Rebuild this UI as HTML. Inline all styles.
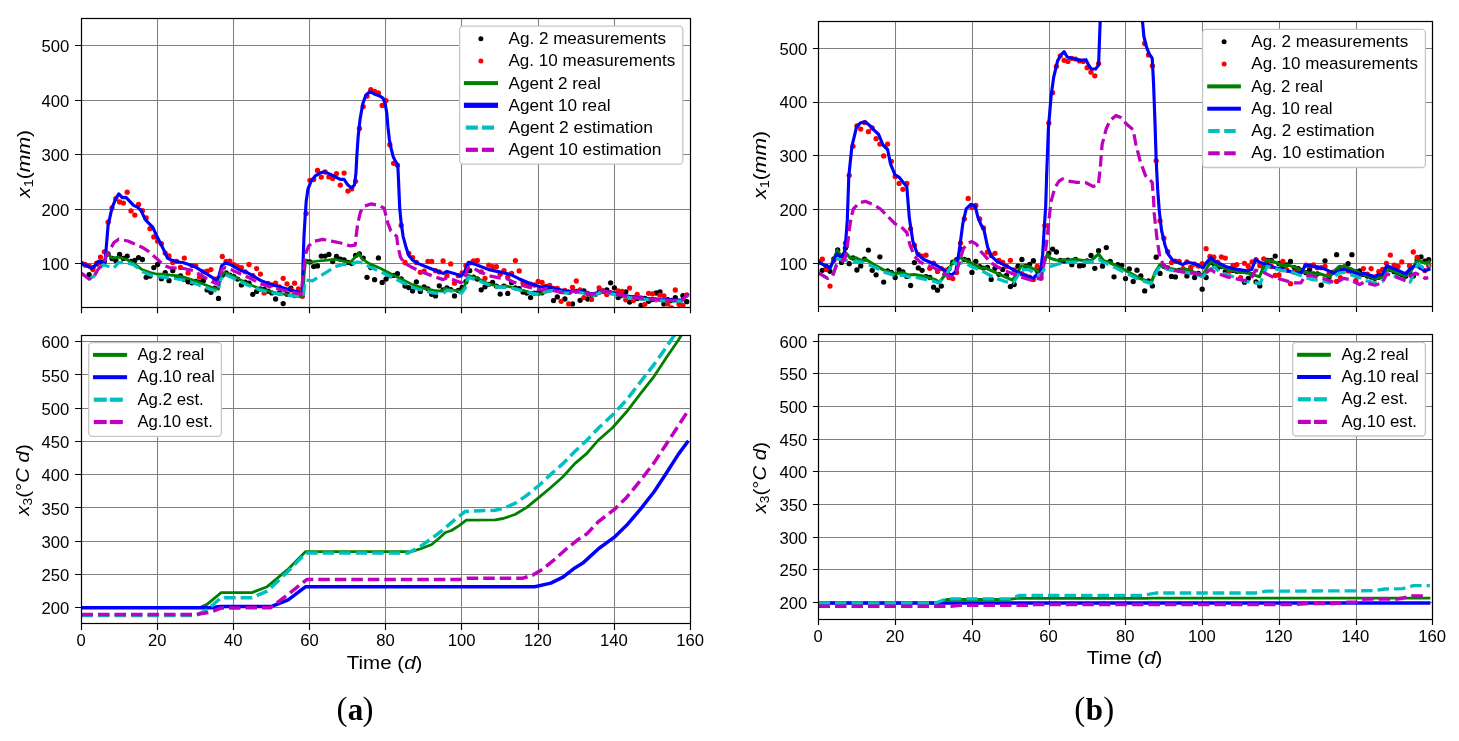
<!DOCTYPE html>
<html><head><meta charset="utf-8"><title>Figure</title>
<style>html,body{margin:0;padding:0;background:#fff;}svg{display:block;}text{font-family:"Liberation Sans", sans-serif;fill:#000;filter:grayscale(1);}text.sf{font-family:"Liberation Serif",serif;}</style>
</head><body>
<svg width="1459" height="741" viewBox="0 0 1459 741">
<rect width="1459" height="741" fill="#fff"/>
<defs>
<clipPath id="ctl"><rect x="81.5" y="18.5" width="609" height="289"/></clipPath>
<clipPath id="ctr"><rect x="818.5" y="21.5" width="614" height="285"/></clipPath>
<clipPath id="cbl"><rect x="81.5" y="335.5" width="609" height="288"/></clipPath>
<clipPath id="cbr"><rect x="818.5" y="334.5" width="614" height="285"/></clipPath>
</defs>
<path d="M81.5 18.5V307.5M157.5 18.5V307.5M233.5 18.5V307.5M309.5 18.5V307.5M385.5 18.5V307.5M461.5 18.5V307.5M538.5 18.5V307.5M614.5 18.5V307.5M690.5 18.5V307.5M81.5 263.5H690.5M81.5 209.5H690.5M81.5 154.5H690.5M81.5 100.5H690.5M81.5 45.5H690.5" stroke="#808080" stroke-width="1.05" fill="none"/>
<g clip-path="url(#ctl)">
<g fill="#000000"><circle cx="81.5" cy="263.6" r="2.65"/><circle cx="85.3" cy="264.9" r="2.65"/><circle cx="89.1" cy="274.7" r="2.65"/><circle cx="92.9" cy="267.8" r="2.65"/><circle cx="96.7" cy="263.9" r="2.65"/><circle cx="100.5" cy="262" r="2.65"/><circle cx="104.3" cy="261.6" r="2.65"/><circle cx="108.1" cy="253.9" r="2.65"/><circle cx="112" cy="258.5" r="2.65"/><circle cx="115.8" cy="260.5" r="2.65"/><circle cx="119.6" cy="254.4" r="2.65"/><circle cx="123.4" cy="258.4" r="2.65"/><circle cx="127.2" cy="256.1" r="2.65"/><circle cx="131" cy="261.4" r="2.65"/><circle cx="134.8" cy="260.5" r="2.65"/><circle cx="138.6" cy="257.6" r="2.65"/><circle cx="142.4" cy="259.5" r="2.65"/><circle cx="146.2" cy="277.3" r="2.65"/><circle cx="150" cy="276.1" r="2.65"/><circle cx="153.8" cy="267.6" r="2.65"/><circle cx="157.6" cy="264.5" r="2.65"/><circle cx="161.4" cy="278.7" r="2.65"/><circle cx="165.2" cy="272.7" r="2.65"/><circle cx="169" cy="280.7" r="2.65"/><circle cx="172.8" cy="270.7" r="2.65"/><circle cx="176.7" cy="277.3" r="2.65"/><circle cx="180.5" cy="276" r="2.65"/><circle cx="184.3" cy="279.4" r="2.65"/><circle cx="188.1" cy="281.8" r="2.65"/><circle cx="191.9" cy="282.8" r="2.65"/><circle cx="195.7" cy="281.5" r="2.65"/><circle cx="199.5" cy="282.6" r="2.65"/><circle cx="203.3" cy="280.7" r="2.65"/><circle cx="207.1" cy="289.9" r="2.65"/><circle cx="210.9" cy="292.3" r="2.65"/><circle cx="214.7" cy="288.2" r="2.65"/><circle cx="218.5" cy="298.4" r="2.65"/><circle cx="222.3" cy="275.2" r="2.65"/><circle cx="226.1" cy="272.8" r="2.65"/><circle cx="229.9" cy="275.1" r="2.65"/><circle cx="233.8" cy="276.6" r="2.65"/><circle cx="237.6" cy="279.1" r="2.65"/><circle cx="241.4" cy="284.9" r="2.65"/><circle cx="245.2" cy="282.2" r="2.65"/><circle cx="249" cy="283.2" r="2.65"/><circle cx="252.8" cy="294.3" r="2.65"/><circle cx="256.6" cy="291.4" r="2.65"/><circle cx="260.4" cy="289" r="2.65"/><circle cx="264.2" cy="289.3" r="2.65"/><circle cx="268" cy="291.2" r="2.65"/><circle cx="271.8" cy="292.9" r="2.65"/><circle cx="275.6" cy="299" r="2.65"/><circle cx="279.4" cy="293" r="2.65"/><circle cx="283.2" cy="303.6" r="2.65"/><circle cx="287" cy="294.2" r="2.65"/><circle cx="290.8" cy="288.1" r="2.65"/><circle cx="294.6" cy="295.5" r="2.65"/><circle cx="298.5" cy="295.3" r="2.65"/><circle cx="302.3" cy="295.4" r="2.65"/><circle cx="306.1" cy="261.3" r="2.65"/><circle cx="309.9" cy="261.9" r="2.65"/><circle cx="313.7" cy="266.6" r="2.65"/><circle cx="317.5" cy="265.9" r="2.65"/><circle cx="321.3" cy="256.1" r="2.65"/><circle cx="325.1" cy="256.1" r="2.65"/><circle cx="328.9" cy="254.4" r="2.65"/><circle cx="332.7" cy="261.5" r="2.65"/><circle cx="336.5" cy="256.5" r="2.65"/><circle cx="340.3" cy="259.2" r="2.65"/><circle cx="344.1" cy="259.9" r="2.65"/><circle cx="347.9" cy="262.4" r="2.65"/><circle cx="351.7" cy="263.6" r="2.65"/><circle cx="355.6" cy="255.4" r="2.65"/><circle cx="359.4" cy="253.9" r="2.65"/><circle cx="363.2" cy="258.1" r="2.65"/><circle cx="367" cy="277.3" r="2.65"/><circle cx="370.8" cy="267.6" r="2.65"/><circle cx="374.6" cy="279.7" r="2.65"/><circle cx="378.4" cy="257.9" r="2.65"/><circle cx="382.2" cy="282.4" r="2.65"/><circle cx="386" cy="279.1" r="2.65"/><circle cx="389.8" cy="275.7" r="2.65"/><circle cx="393.6" cy="275.4" r="2.65"/><circle cx="397.4" cy="273.7" r="2.65"/><circle cx="401.2" cy="278.9" r="2.65"/><circle cx="405" cy="286" r="2.65"/><circle cx="408.8" cy="287.6" r="2.65"/><circle cx="412.6" cy="290.9" r="2.65"/><circle cx="416.4" cy="281.8" r="2.65"/><circle cx="420.3" cy="291.4" r="2.65"/><circle cx="424.1" cy="286.8" r="2.65"/><circle cx="427.9" cy="288.8" r="2.65"/><circle cx="431.7" cy="294.3" r="2.65"/><circle cx="435.5" cy="295.9" r="2.65"/><circle cx="439.3" cy="285.8" r="2.65"/><circle cx="443.1" cy="289.8" r="2.65"/><circle cx="446.9" cy="287.8" r="2.65"/><circle cx="450.7" cy="289.6" r="2.65"/><circle cx="454.5" cy="295.9" r="2.65"/><circle cx="458.3" cy="290.4" r="2.65"/><circle cx="462.1" cy="287.4" r="2.65"/><circle cx="465.9" cy="281.7" r="2.65"/><circle cx="469.7" cy="270.7" r="2.65"/><circle cx="473.5" cy="277.2" r="2.65"/><circle cx="477.3" cy="279" r="2.65"/><circle cx="481.2" cy="289.8" r="2.65"/><circle cx="485" cy="286.8" r="2.65"/><circle cx="488.8" cy="284.3" r="2.65"/><circle cx="492.6" cy="282.4" r="2.65"/><circle cx="496.4" cy="286.1" r="2.65"/><circle cx="500.2" cy="294.1" r="2.65"/><circle cx="504" cy="286.1" r="2.65"/><circle cx="507.8" cy="293.4" r="2.65"/><circle cx="511.6" cy="282.7" r="2.65"/><circle cx="515.4" cy="287.8" r="2.65"/><circle cx="519.2" cy="288.6" r="2.65"/><circle cx="523" cy="292" r="2.65"/><circle cx="526.8" cy="293" r="2.65"/><circle cx="530.6" cy="297.6" r="2.65"/><circle cx="534.4" cy="293.1" r="2.65"/><circle cx="538.2" cy="293" r="2.65"/><circle cx="542.1" cy="292.8" r="2.65"/><circle cx="545.9" cy="290.8" r="2.65"/><circle cx="549.7" cy="289.9" r="2.65"/><circle cx="553.5" cy="300.6" r="2.65"/><circle cx="557.3" cy="296.9" r="2.65"/><circle cx="561.1" cy="291.6" r="2.65"/><circle cx="564.9" cy="299" r="2.65"/><circle cx="568.7" cy="292.2" r="2.65"/><circle cx="572.5" cy="303.9" r="2.65"/><circle cx="576.3" cy="291.3" r="2.65"/><circle cx="580.1" cy="300.3" r="2.65"/><circle cx="583.9" cy="290.8" r="2.65"/><circle cx="587.7" cy="299" r="2.65"/><circle cx="591.5" cy="294.6" r="2.65"/><circle cx="595.3" cy="294.6" r="2.65"/><circle cx="599.1" cy="292.2" r="2.65"/><circle cx="603" cy="291.2" r="2.65"/><circle cx="606.8" cy="290" r="2.65"/><circle cx="610.6" cy="282.8" r="2.65"/><circle cx="614.4" cy="287.8" r="2.65"/><circle cx="618.2" cy="297.6" r="2.65"/><circle cx="622" cy="295.5" r="2.65"/><circle cx="625.8" cy="291.8" r="2.65"/><circle cx="629.6" cy="302.1" r="2.65"/><circle cx="633.4" cy="297.7" r="2.65"/><circle cx="637.2" cy="298.6" r="2.65"/><circle cx="641" cy="305.4" r="2.65"/><circle cx="644.8" cy="298.4" r="2.65"/><circle cx="648.6" cy="301.3" r="2.65"/><circle cx="652.4" cy="299.6" r="2.65"/><circle cx="656.2" cy="293" r="2.65"/><circle cx="660" cy="291.8" r="2.65"/><circle cx="663.9" cy="303.9" r="2.65"/><circle cx="667.7" cy="299.7" r="2.65"/><circle cx="671.5" cy="300.5" r="2.65"/><circle cx="675.3" cy="297.6" r="2.65"/><circle cx="679.1" cy="301.5" r="2.65"/><circle cx="682.9" cy="295.6" r="2.65"/><circle cx="686.7" cy="301.7" r="2.65"/></g>
<g fill="#ff0000"><circle cx="81.5" cy="263.5" r="2.65"/><circle cx="85.3" cy="264.7" r="2.65"/><circle cx="89.1" cy="265.8" r="2.65"/><circle cx="92.9" cy="269.6" r="2.65"/><circle cx="96.7" cy="263.2" r="2.65"/><circle cx="100.5" cy="257.1" r="2.65"/><circle cx="104.3" cy="251.8" r="2.65"/><circle cx="108.1" cy="222.2" r="2.65"/><circle cx="112" cy="208" r="2.65"/><circle cx="115.8" cy="198.7" r="2.65"/><circle cx="119.6" cy="202" r="2.65"/><circle cx="123.4" cy="203.1" r="2.65"/><circle cx="127.2" cy="192.2" r="2.65"/><circle cx="131" cy="210.9" r="2.65"/><circle cx="134.8" cy="215.1" r="2.65"/><circle cx="138.6" cy="204.4" r="2.65"/><circle cx="142.4" cy="210.7" r="2.65"/><circle cx="146.2" cy="218" r="2.65"/><circle cx="150" cy="228.7" r="2.65"/><circle cx="153.8" cy="236.9" r="2.65"/><circle cx="157.6" cy="241.2" r="2.65"/><circle cx="161.4" cy="243.7" r="2.65"/><circle cx="165.2" cy="253.1" r="2.65"/><circle cx="169" cy="256" r="2.65"/><circle cx="172.8" cy="262.5" r="2.65"/><circle cx="176.7" cy="261.3" r="2.65"/><circle cx="180.5" cy="267.4" r="2.65"/><circle cx="184.3" cy="258.1" r="2.65"/><circle cx="188.1" cy="272.9" r="2.65"/><circle cx="191.9" cy="265.6" r="2.65"/><circle cx="195.7" cy="265.8" r="2.65"/><circle cx="199.5" cy="277.2" r="2.65"/><circle cx="203.3" cy="271.8" r="2.65"/><circle cx="207.1" cy="271.2" r="2.65"/><circle cx="210.9" cy="269.6" r="2.65"/><circle cx="214.7" cy="279.2" r="2.65"/><circle cx="218.5" cy="278.1" r="2.65"/><circle cx="222.3" cy="256.5" r="2.65"/><circle cx="226.1" cy="261.4" r="2.65"/><circle cx="229.9" cy="261.1" r="2.65"/><circle cx="233.8" cy="264.7" r="2.65"/><circle cx="237.6" cy="266.6" r="2.65"/><circle cx="241.4" cy="267.6" r="2.65"/><circle cx="245.2" cy="271.8" r="2.65"/><circle cx="249" cy="264.5" r="2.65"/><circle cx="252.8" cy="275.7" r="2.65"/><circle cx="256.6" cy="268.6" r="2.65"/><circle cx="260.4" cy="274.1" r="2.65"/><circle cx="264.2" cy="292.9" r="2.65"/><circle cx="268" cy="283.5" r="2.65"/><circle cx="271.8" cy="284.8" r="2.65"/><circle cx="275.6" cy="283.2" r="2.65"/><circle cx="279.4" cy="287" r="2.65"/><circle cx="283.2" cy="278.3" r="2.65"/><circle cx="287" cy="283.8" r="2.65"/><circle cx="290.8" cy="290" r="2.65"/><circle cx="294.6" cy="283.2" r="2.65"/><circle cx="298.5" cy="288.8" r="2.65"/><circle cx="302.3" cy="296.3" r="2.65"/><circle cx="306.1" cy="213.4" r="2.65"/><circle cx="309.9" cy="180.3" r="2.65"/><circle cx="313.7" cy="179.6" r="2.65"/><circle cx="317.5" cy="170.5" r="2.65"/><circle cx="321.3" cy="177.1" r="2.65"/><circle cx="325.1" cy="172" r="2.65"/><circle cx="328.9" cy="176.9" r="2.65"/><circle cx="332.7" cy="178.5" r="2.65"/><circle cx="336.5" cy="173.6" r="2.65"/><circle cx="340.3" cy="185.1" r="2.65"/><circle cx="344.1" cy="173.1" r="2.65"/><circle cx="347.9" cy="191.1" r="2.65"/><circle cx="351.7" cy="188.9" r="2.65"/><circle cx="355.6" cy="181.3" r="2.65"/><circle cx="359.4" cy="128.4" r="2.65"/><circle cx="363.2" cy="106.6" r="2.65"/><circle cx="367" cy="96.2" r="2.65"/><circle cx="370.8" cy="89.7" r="2.65"/><circle cx="374.6" cy="91.3" r="2.65"/><circle cx="378.4" cy="92.9" r="2.65"/><circle cx="382.2" cy="105.5" r="2.65"/><circle cx="386" cy="100.6" r="2.65"/><circle cx="389.8" cy="144.7" r="2.65"/><circle cx="393.6" cy="163.3" r="2.65"/><circle cx="397.4" cy="165.2" r="2.65"/><circle cx="401.2" cy="225.4" r="2.65"/><circle cx="405" cy="262.5" r="2.65"/><circle cx="408.8" cy="253.4" r="2.65"/><circle cx="412.6" cy="257.6" r="2.65"/><circle cx="416.4" cy="262.4" r="2.65"/><circle cx="420.3" cy="272.3" r="2.65"/><circle cx="424.1" cy="271.2" r="2.65"/><circle cx="427.9" cy="261.5" r="2.65"/><circle cx="431.7" cy="261.5" r="2.65"/><circle cx="435.5" cy="270.7" r="2.65"/><circle cx="439.3" cy="271.9" r="2.65"/><circle cx="443.1" cy="260.9" r="2.65"/><circle cx="446.9" cy="275.7" r="2.65"/><circle cx="450.7" cy="263.9" r="2.65"/><circle cx="454.5" cy="283.2" r="2.65"/><circle cx="458.3" cy="275.7" r="2.65"/><circle cx="462.1" cy="272.9" r="2.65"/><circle cx="465.9" cy="265.6" r="2.65"/><circle cx="469.7" cy="263.1" r="2.65"/><circle cx="473.5" cy="260.9" r="2.65"/><circle cx="477.3" cy="260.5" r="2.65"/><circle cx="481.2" cy="271.8" r="2.65"/><circle cx="485" cy="278.3" r="2.65"/><circle cx="488.8" cy="265.2" r="2.65"/><circle cx="492.6" cy="266.6" r="2.65"/><circle cx="496.4" cy="266.7" r="2.65"/><circle cx="500.2" cy="274.2" r="2.65"/><circle cx="504" cy="270.7" r="2.65"/><circle cx="507.8" cy="277.2" r="2.65"/><circle cx="511.6" cy="273.4" r="2.65"/><circle cx="515.4" cy="260.6" r="2.65"/><circle cx="519.2" cy="270.9" r="2.65"/><circle cx="523" cy="282.7" r="2.65"/><circle cx="526.8" cy="285.4" r="2.65"/><circle cx="530.6" cy="284.1" r="2.65"/><circle cx="534.4" cy="285" r="2.65"/><circle cx="538.2" cy="281.4" r="2.65"/><circle cx="542.1" cy="282.5" r="2.65"/><circle cx="545.9" cy="286.3" r="2.65"/><circle cx="549.7" cy="285.4" r="2.65"/><circle cx="553.5" cy="288.3" r="2.65"/><circle cx="557.3" cy="288.5" r="2.65"/><circle cx="561.1" cy="301.3" r="2.65"/><circle cx="564.9" cy="290.3" r="2.65"/><circle cx="568.7" cy="303.9" r="2.65"/><circle cx="572.5" cy="287.3" r="2.65"/><circle cx="576.3" cy="281" r="2.65"/><circle cx="580.1" cy="289.8" r="2.65"/><circle cx="583.9" cy="297.6" r="2.65"/><circle cx="587.7" cy="293.4" r="2.65"/><circle cx="591.5" cy="299.4" r="2.65"/><circle cx="595.3" cy="294.2" r="2.65"/><circle cx="599.1" cy="287.8" r="2.65"/><circle cx="603" cy="290.9" r="2.65"/><circle cx="606.8" cy="294.5" r="2.65"/><circle cx="610.6" cy="292.7" r="2.65"/><circle cx="614.4" cy="293.4" r="2.65"/><circle cx="618.2" cy="290.8" r="2.65"/><circle cx="622" cy="291.5" r="2.65"/><circle cx="625.8" cy="299.8" r="2.65"/><circle cx="629.6" cy="288.1" r="2.65"/><circle cx="633.4" cy="300.6" r="2.65"/><circle cx="637.2" cy="294.5" r="2.65"/><circle cx="641" cy="297.9" r="2.65"/><circle cx="644.8" cy="304.3" r="2.65"/><circle cx="648.6" cy="293.3" r="2.65"/><circle cx="652.4" cy="293.8" r="2.65"/><circle cx="656.2" cy="299.8" r="2.65"/><circle cx="660" cy="295.2" r="2.65"/><circle cx="663.9" cy="295.8" r="2.65"/><circle cx="667.7" cy="303.9" r="2.65"/><circle cx="671.5" cy="307.8" r="2.65"/><circle cx="675.3" cy="290" r="2.65"/><circle cx="679.1" cy="304.3" r="2.65"/><circle cx="682.9" cy="305.4" r="2.65"/><circle cx="686.7" cy="294.8" r="2.65"/></g>
<polyline points="81.5,263.1 92.2,268.5 98.6,261.4 102.4,262.5 105.1,261.4 107.2,253.2 112,258.1 118.4,257.2 126,259.2 133.6,263.1 142,269.6 149.6,272.3 157.2,274.2 163,274 170.6,275.2 176.3,275.6 183.9,277.1 193,280 202.5,283.8 212.1,287.5 218.5,289.3 220.4,278 224.2,272.3 231.1,275.2 240.6,280 249.7,284.6 259.3,288.4 268.8,291.2 278.3,293.2 287.8,294.7 301.1,295.8 303,295.2 304.2,274.5 305.7,260.3 306.8,262.5 318.2,261 327.8,260.1 335,259.2 342.6,261 350.2,262.5 355.2,257.2 358.8,253.5 362.4,259.2 369.3,263.6 380.7,268.5 393.6,275.2 403.1,280 412.6,284.6 422.2,287.9 433.6,290.3 440.8,291.2 445.8,288.4 450.3,289.8 461,291.2 464.4,286.5 468.2,275.2 478.9,279 488.8,284 499.4,286.5 507,286.2 518.8,289.2 529.5,292.3 540.2,294.1 545.9,290.9 555,289.8 564.1,292.2 570.2,292.5 573.3,291.1 582,292.2 589.6,294.4 595.7,294.4 601.8,290.9 607.9,292.1 615.5,294.4 624.3,296.2 636.5,298.1 648.6,299.2 660.4,300.1 672.6,300.7 681.7,300.7 687.1,295.6 688.4,296.1" fill="none" stroke="#008000" stroke-width="2.7" stroke-linejoin="round"/>
<polyline points="81.5,263.1 92.2,268.5 98.6,261.4 102.4,262.5 105.1,261.4 108.1,225.4 112,208 115.8,198.7 118.8,193.8 122.2,197.6 126,197.4 129.8,201.4 133.6,205.3 137.5,207.2 141.3,210.9 145.1,219.4 148.9,223.3 152.7,227.1 156.5,235.5 160.3,243 164.1,250.6 167.5,258.1 171.3,260.1 178.2,262 182.7,262.5 189.6,264.7 194.9,266.7 202.5,271.4 210.2,276.1 216.6,280.3 218.5,278 221.6,265.8 225.4,263.1 231.1,264.8 240.6,270.5 245.9,271.8 253.5,276.1 261.2,280.8 268.8,283.7 278.3,286.5 287.8,289.3 299.6,292.5 302.3,293.6 303,264.7 304,236.3 305.3,214 306.3,200.4 308,188.9 311,181.3 315.6,175.6 320.5,172.8 324.3,171.8 328.9,173.6 334.6,176.5 340.3,179.4 344.1,179.4 347.9,185.1 351.4,187.8 354.4,185.1 355.9,173.6 356.9,154.8 358.2,136 360.1,119.1 362.8,103.8 365.8,95.2 370,91.5 374.2,94 379.1,95.7 383,98.1 385.2,103.8 386.8,113.2 387.9,126.5 389.4,139.8 391.3,149.1 393.2,156.7 395.1,160.5 397.8,165.2 398.6,181.8 399.7,208 401.2,223.3 403.1,236.3 406.2,247.8 408.8,255.4 412.6,260.1 418.4,263.6 426,266.7 435.5,270.5 443.1,273.4 446.9,271.4 454.1,273.4 461,276.1 464.4,272.3 468.2,262.5 473.9,263.9 478.9,265.8 488.8,269.6 499.4,271.9 509.7,274.2 518.8,278.7 529.5,283.2 540.2,287 545.9,286.2 555,288.5 564.1,290.8 570.2,291.5 573.3,290.3 582,291.5 589.6,293.8 595.7,293.8 601.8,290.3 607.9,291.5 615.5,293.8 624.3,295.6 636.5,297.6 648.6,298.6 660.4,299.5 672.6,300.1 681.7,300.1 687.1,295 688.4,295.5" fill="none" stroke="#0000ff" stroke-width="3.15" stroke-linejoin="round"/>
<polyline points="81.5,273.4 89.1,279 94.1,276.1 98.6,268.5 103.6,264.7 106.2,265.8 113.9,268 118.4,262.5 126,262.5 133.6,264.8 142,271.4 149.6,274.8 157.2,276.7 170.6,278 183.9,280 193,282.7 202.5,286.5 212.1,289.9 217.8,291.2 220.4,280 224.2,274 231.1,277.1 240.6,281.8 249.7,286 259.3,289.8 268.8,292.2 287.8,295.4 301.1,296.9 303.4,296.3 304.5,285.4 305.7,280 312.5,280.8 320.2,276.1 327.8,271.4 335,266.7 342.6,264.4 350.2,264.8 357.1,262 362.4,262.9 369.3,266.7 380.7,271.8 393.6,278 403.1,282.7 412.6,287.5 422.2,290.3 433.6,293.2 443.1,293.6 446.5,290.3 454.1,291.2 461.7,293.2 465.6,287.5 468.2,277.1 478.9,280.8 488.8,284.9 499.4,287.3 507,287 518.8,289.8 529.5,292.8 540.2,294.7 545.9,291.4 555,290.3 564.1,292.8 570.2,293 573.3,291.7 582,292.8 589.6,295 595.7,295 601.8,291.4 607.9,292.6 615.5,294.9 624.3,296.7 636.5,298.7 648.6,299.7 660.4,300.6 672.6,301.2 681.7,301.2 687.1,296.1 688.4,296.6" fill="none" stroke="#00bfbf" stroke-width="3.25" stroke-linejoin="round" stroke-dasharray="11.5 5" stroke-dashoffset="8"/>
<polyline points="81.5,273.4 89.1,279 94.1,276.1 98.6,268.5 103.6,263.9 106.2,255.4 110,249.6 113.9,242.6 118.6,239.2 127.9,241 133.6,243.4 142.4,247.4 148.9,251.6 155,257.1 161.8,263.1 165.2,265.8 169.4,267.6 176.3,268 183.9,268.5 193,270.5 202.5,276.1 212.1,281.8 218.5,284.6 221.6,269.6 225.4,267.6 231.1,269.6 240.6,274 249.7,278 259.3,283.2 268.8,286.5 278.3,289 287.8,291.2 301.1,294.1 303,276.1 305.7,253.5 308.7,245.9 314.4,241.2 322.8,239.3 331.6,241.2 340.7,243 350.2,245.9 355.2,245.1 356.3,234.5 357.8,223.3 360.5,211.8 364.3,206.2 371.2,203.9 378.8,205.3 384.1,208.1 386,215.6 387.9,223.3 390.9,230.9 396.7,236.4 397.8,245.9 400.5,257.2 404.3,262.9 410.7,266.7 418.4,270.5 426,273.4 435.5,277.1 443.1,279.6 446.9,278 454.1,280 461,282.7 464.4,278 468.2,267.6 473.9,268.5 478.9,271.2 488.8,275.7 499.4,277.9 507,278.7 512.7,281.7 524.9,286.2 537.1,289.2 542.1,290 545.9,288.5 555,290.8 564.1,293 570.2,293 573.3,290.9 582,292 589.6,294.1 595.7,294.1 601.8,290.6 607.9,291.8 615.5,294.1 624.3,295.9 636.5,297.8 648.6,298.9 660.4,299.8 672.6,300.4 681.7,300.4 687.1,295.2 688.4,294.8" fill="none" stroke="#bf00bf" stroke-width="3.25" stroke-linejoin="round" stroke-dasharray="11.5 5"/>
</g>
<rect x="81.5" y="18.5" width="609" height="289" fill="none" stroke="#000" stroke-width="1.2"/>
<path d="M81.5 307.5v5.7M157.5 307.5v5.7M233.5 307.5v5.7M309.5 307.5v5.7M385.5 307.5v5.7M461.5 307.5v5.7M538.5 307.5v5.7M614.5 307.5v5.7M690.5 307.5v5.7M81.5 263.5h-6.5M81.5 209.5h-6.5M81.5 154.5h-6.5M81.5 100.5h-6.5M81.5 45.5h-6.5" stroke="#000" stroke-width="1.15" fill="none"/>
<text x="69.3" y="270.3" text-anchor="end" font-size="15.8" textLength="27.8" lengthAdjust="spacingAndGlyphs">100</text>
<text x="69.3" y="215.8" text-anchor="end" font-size="15.8" textLength="27.8" lengthAdjust="spacingAndGlyphs">200</text>
<text x="69.3" y="161.2" text-anchor="end" font-size="15.8" textLength="27.8" lengthAdjust="spacingAndGlyphs">300</text>
<text x="69.3" y="106.7" text-anchor="end" font-size="15.8" textLength="27.8" lengthAdjust="spacingAndGlyphs">400</text>
<text x="69.3" y="52.2" text-anchor="end" font-size="15.8" textLength="27.8" lengthAdjust="spacingAndGlyphs">500</text>
<rect x="459.6" y="26.1" width="223.2" height="138" rx="3.5" ry="3.5" fill="#fff" stroke="#c6c6c6" stroke-width="1.3"/>
<circle cx="480.9" cy="38.7" r="2.5" fill="#000000"/>
<text x="508.5" y="43.9" font-size="15.7" textLength="157.6" lengthAdjust="spacingAndGlyphs">Ag. 2 measurements</text>
<circle cx="480.9" cy="60.9" r="2.5" fill="#ff0000"/>
<text x="508.5" y="66" font-size="15.7" textLength="166.7" lengthAdjust="spacingAndGlyphs">Ag. 10 measurements</text>
<rect x="463.9" y="81.1" width="34.1" height="4" fill="#008000"/>
<text x="508.5" y="88.5" font-size="15.7" textLength="92.2" lengthAdjust="spacingAndGlyphs">Agent 2 real</text>
<rect x="463.9" y="102.7" width="34.1" height="5.2" fill="#0000ff"/>
<text x="508.5" y="110.9" font-size="15.7" textLength="102" lengthAdjust="spacingAndGlyphs">Agent 10 real</text>
<rect x="465.8" y="125.5" width="12.1" height="4.2" fill="#00bfbf"/>
<rect x="481.9" y="125.5" width="12.1" height="4.2" fill="#00bfbf"/>
<text x="508.5" y="132.8" font-size="15.7" textLength="144.5" lengthAdjust="spacingAndGlyphs">Agent 2 estimation</text>
<rect x="465.8" y="147.7" width="12.1" height="4.2" fill="#bf00bf"/>
<rect x="481.9" y="147.7" width="12.1" height="4.2" fill="#bf00bf"/>
<text x="508.5" y="154.9" font-size="15.7" textLength="153" lengthAdjust="spacingAndGlyphs">Agent 10 estimation</text>
<path d="M818.5 21.5V306.5M895.5 21.5V306.5M972.5 21.5V306.5M1049.5 21.5V306.5M1125.5 21.5V306.5M1202.5 21.5V306.5M1279.5 21.5V306.5M1356.5 21.5V306.5M1432.5 21.5V306.5M818.5 263.5H1432.5M818.5 209.5H1432.5M818.5 155.5H1432.5M818.5 102.5H1432.5M818.5 48.5H1432.5" stroke="#808080" stroke-width="1.05" fill="none"/>
<g clip-path="url(#ctr)">
<g fill="#000000"><circle cx="818.5" cy="261.9" r="2.65"/><circle cx="822.3" cy="270.3" r="2.65"/><circle cx="826.2" cy="266.3" r="2.65"/><circle cx="830" cy="271.3" r="2.65"/><circle cx="833.9" cy="258.8" r="2.65"/><circle cx="837.7" cy="249.9" r="2.65"/><circle cx="841.5" cy="262.4" r="2.65"/><circle cx="845.4" cy="248.1" r="2.65"/><circle cx="849.2" cy="263.7" r="2.65"/><circle cx="853" cy="258" r="2.65"/><circle cx="856.9" cy="270" r="2.65"/><circle cx="860.7" cy="265.9" r="2.65"/><circle cx="864.5" cy="259.2" r="2.65"/><circle cx="868.4" cy="250.1" r="2.65"/><circle cx="872.2" cy="270.3" r="2.65"/><circle cx="876.1" cy="274.8" r="2.65"/><circle cx="879.9" cy="256.8" r="2.65"/><circle cx="883.7" cy="282.1" r="2.65"/><circle cx="887.6" cy="270.9" r="2.65"/><circle cx="891.4" cy="272.4" r="2.65"/><circle cx="895.2" cy="277.5" r="2.65"/><circle cx="899.1" cy="270" r="2.65"/><circle cx="902.9" cy="271.9" r="2.65"/><circle cx="906.8" cy="276.4" r="2.65"/><circle cx="910.6" cy="285.5" r="2.65"/><circle cx="914.4" cy="262.6" r="2.65"/><circle cx="918.3" cy="267.9" r="2.65"/><circle cx="922.1" cy="270.3" r="2.65"/><circle cx="926" cy="276.6" r="2.65"/><circle cx="929.8" cy="277.5" r="2.65"/><circle cx="933.6" cy="287.2" r="2.65"/><circle cx="937.5" cy="290.2" r="2.65"/><circle cx="941.3" cy="286.1" r="2.65"/><circle cx="945.1" cy="274.5" r="2.65"/><circle cx="949" cy="268.8" r="2.65"/><circle cx="952.8" cy="262.2" r="2.65"/><circle cx="956.6" cy="259.7" r="2.65"/><circle cx="960.5" cy="249" r="2.65"/><circle cx="964.3" cy="259.5" r="2.65"/><circle cx="968.2" cy="260.3" r="2.65"/><circle cx="972" cy="272.4" r="2.65"/><circle cx="975.8" cy="261.3" r="2.65"/><circle cx="979.7" cy="266.7" r="2.65"/><circle cx="983.5" cy="268.1" r="2.65"/><circle cx="987.4" cy="267.3" r="2.65"/><circle cx="991.2" cy="279.4" r="2.65"/><circle cx="995" cy="268.3" r="2.65"/><circle cx="998.9" cy="274.3" r="2.65"/><circle cx="1002.7" cy="269.4" r="2.65"/><circle cx="1006.5" cy="275.3" r="2.65"/><circle cx="1010.4" cy="286.6" r="2.65"/><circle cx="1014.2" cy="284.5" r="2.65"/><circle cx="1018" cy="266.2" r="2.65"/><circle cx="1021.9" cy="259.5" r="2.65"/><circle cx="1025.7" cy="266.3" r="2.65"/><circle cx="1029.6" cy="264.3" r="2.65"/><circle cx="1033.4" cy="260.7" r="2.65"/><circle cx="1037.2" cy="270.4" r="2.65"/><circle cx="1041.1" cy="269.4" r="2.65"/><circle cx="1044.9" cy="244.5" r="2.65"/><circle cx="1048.8" cy="253.4" r="2.65"/><circle cx="1052.6" cy="249.1" r="2.65"/><circle cx="1056.4" cy="252" r="2.65"/><circle cx="1060.3" cy="260.3" r="2.65"/><circle cx="1064.1" cy="260.8" r="2.65"/><circle cx="1067.9" cy="260.2" r="2.65"/><circle cx="1071.8" cy="264.7" r="2.65"/><circle cx="1075.6" cy="259.5" r="2.65"/><circle cx="1079.5" cy="265.9" r="2.65"/><circle cx="1083.3" cy="265.3" r="2.65"/><circle cx="1087.1" cy="260.9" r="2.65"/><circle cx="1091" cy="255.4" r="2.65"/><circle cx="1094.8" cy="268.3" r="2.65"/><circle cx="1098.6" cy="250.7" r="2.65"/><circle cx="1102.5" cy="266.2" r="2.65"/><circle cx="1106.3" cy="247.6" r="2.65"/><circle cx="1110.2" cy="261.3" r="2.65"/><circle cx="1114" cy="276.8" r="2.65"/><circle cx="1117.8" cy="264.6" r="2.65"/><circle cx="1121.7" cy="265.3" r="2.65"/><circle cx="1125.5" cy="278.6" r="2.65"/><circle cx="1129.3" cy="268.9" r="2.65"/><circle cx="1133.2" cy="281.5" r="2.65"/><circle cx="1137" cy="270.2" r="2.65"/><circle cx="1140.8" cy="275.9" r="2.65"/><circle cx="1144.7" cy="290.9" r="2.65"/><circle cx="1148.5" cy="281" r="2.65"/><circle cx="1152.4" cy="285.9" r="2.65"/><circle cx="1156.2" cy="257.2" r="2.65"/><circle cx="1160" cy="273.4" r="2.65"/><circle cx="1163.9" cy="266.3" r="2.65"/><circle cx="1167.7" cy="268" r="2.65"/><circle cx="1171.5" cy="276.4" r="2.65"/><circle cx="1175.4" cy="276.9" r="2.65"/><circle cx="1179.2" cy="270.3" r="2.65"/><circle cx="1183.1" cy="269.6" r="2.65"/><circle cx="1186.9" cy="275.9" r="2.65"/><circle cx="1190.7" cy="271.1" r="2.65"/><circle cx="1194.6" cy="277.5" r="2.65"/><circle cx="1198.4" cy="273.4" r="2.65"/><circle cx="1202.2" cy="289.2" r="2.65"/><circle cx="1206.1" cy="277.5" r="2.65"/><circle cx="1209.9" cy="262.6" r="2.65"/><circle cx="1213.8" cy="263.4" r="2.65"/><circle cx="1217.6" cy="267.8" r="2.65"/><circle cx="1221.4" cy="266.6" r="2.65"/><circle cx="1225.3" cy="271.6" r="2.65"/><circle cx="1229.1" cy="269.7" r="2.65"/><circle cx="1233" cy="270.4" r="2.65"/><circle cx="1236.8" cy="271.3" r="2.65"/><circle cx="1240.6" cy="271.3" r="2.65"/><circle cx="1244.5" cy="282.2" r="2.65"/><circle cx="1248.3" cy="278.4" r="2.65"/><circle cx="1252.1" cy="274.7" r="2.65"/><circle cx="1256" cy="281.8" r="2.65"/><circle cx="1259.8" cy="285.9" r="2.65"/><circle cx="1263.7" cy="267.2" r="2.65"/><circle cx="1267.5" cy="260.5" r="2.65"/><circle cx="1271.3" cy="260.3" r="2.65"/><circle cx="1275.2" cy="256.1" r="2.65"/><circle cx="1279" cy="263.7" r="2.65"/><circle cx="1282.8" cy="266.1" r="2.65"/><circle cx="1286.7" cy="265" r="2.65"/><circle cx="1290.5" cy="261.5" r="2.65"/><circle cx="1294.3" cy="267.6" r="2.65"/><circle cx="1298.2" cy="268.6" r="2.65"/><circle cx="1302" cy="270.5" r="2.65"/><circle cx="1305.9" cy="272.7" r="2.65"/><circle cx="1309.7" cy="269.4" r="2.65"/><circle cx="1313.5" cy="273.8" r="2.65"/><circle cx="1317.4" cy="273.8" r="2.65"/><circle cx="1321.2" cy="285.2" r="2.65"/><circle cx="1325" cy="260.8" r="2.65"/><circle cx="1328.9" cy="277.4" r="2.65"/><circle cx="1332.7" cy="272.5" r="2.65"/><circle cx="1336.6" cy="254.7" r="2.65"/><circle cx="1340.4" cy="267.3" r="2.65"/><circle cx="1344.2" cy="266.9" r="2.65"/><circle cx="1348.1" cy="263.7" r="2.65"/><circle cx="1351.9" cy="254.7" r="2.65"/><circle cx="1355.8" cy="271.9" r="2.65"/><circle cx="1359.6" cy="270.9" r="2.65"/><circle cx="1363.4" cy="274.4" r="2.65"/><circle cx="1367.3" cy="276" r="2.65"/><circle cx="1371.1" cy="277" r="2.65"/><circle cx="1374.9" cy="278.3" r="2.65"/><circle cx="1378.8" cy="277.3" r="2.65"/><circle cx="1382.6" cy="276.1" r="2.65"/><circle cx="1386.4" cy="269.1" r="2.65"/><circle cx="1390.3" cy="269.5" r="2.65"/><circle cx="1394.1" cy="271.7" r="2.65"/><circle cx="1398" cy="273.3" r="2.65"/><circle cx="1401.8" cy="274.9" r="2.65"/><circle cx="1405.6" cy="276.2" r="2.65"/><circle cx="1409.5" cy="272.6" r="2.65"/><circle cx="1413.3" cy="276.1" r="2.65"/><circle cx="1417.2" cy="260.2" r="2.65"/><circle cx="1421" cy="256.8" r="2.65"/><circle cx="1424.8" cy="261.1" r="2.65"/><circle cx="1428.7" cy="259.7" r="2.65"/></g>
<g fill="#ff0000"><circle cx="818.5" cy="261.9" r="2.65"/><circle cx="822.3" cy="259.2" r="2.65"/><circle cx="826.2" cy="269.4" r="2.65"/><circle cx="830" cy="286.1" r="2.65"/><circle cx="833.9" cy="260.2" r="2.65"/><circle cx="837.7" cy="254.4" r="2.65"/><circle cx="841.5" cy="256.8" r="2.65"/><circle cx="845.4" cy="243.1" r="2.65"/><circle cx="849.2" cy="175.3" r="2.65"/><circle cx="853" cy="146.3" r="2.65"/><circle cx="856.9" cy="125.8" r="2.65"/><circle cx="860.7" cy="129.1" r="2.65"/><circle cx="864.5" cy="122.6" r="2.65"/><circle cx="868.4" cy="131.7" r="2.65"/><circle cx="872.2" cy="128" r="2.65"/><circle cx="876.1" cy="138.7" r="2.65"/><circle cx="879.9" cy="144.1" r="2.65"/><circle cx="883.7" cy="155.9" r="2.65"/><circle cx="887.6" cy="144.1" r="2.65"/><circle cx="891.4" cy="161.3" r="2.65"/><circle cx="895.2" cy="176.6" r="2.65"/><circle cx="899.1" cy="183.4" r="2.65"/><circle cx="902.9" cy="189.3" r="2.65"/><circle cx="906.8" cy="183.4" r="2.65"/><circle cx="910.6" cy="228.8" r="2.65"/><circle cx="914.4" cy="245.2" r="2.65"/><circle cx="918.3" cy="254.4" r="2.65"/><circle cx="922.1" cy="256.1" r="2.65"/><circle cx="926" cy="255.2" r="2.65"/><circle cx="929.8" cy="268.3" r="2.65"/><circle cx="933.6" cy="263.2" r="2.65"/><circle cx="937.5" cy="271.4" r="2.65"/><circle cx="941.3" cy="268.6" r="2.65"/><circle cx="945.1" cy="270.5" r="2.65"/><circle cx="949" cy="277.5" r="2.65"/><circle cx="952.8" cy="278.6" r="2.65"/><circle cx="956.6" cy="272.4" r="2.65"/><circle cx="960.5" cy="243.1" r="2.65"/><circle cx="964.3" cy="218.9" r="2.65"/><circle cx="968.2" cy="198.4" r="2.65"/><circle cx="972" cy="207.6" r="2.65"/><circle cx="975.8" cy="205.4" r="2.65"/><circle cx="979.7" cy="218.9" r="2.65"/><circle cx="983.5" cy="228" r="2.65"/><circle cx="987.4" cy="252.2" r="2.65"/><circle cx="991.2" cy="255.4" r="2.65"/><circle cx="995" cy="253.3" r="2.65"/><circle cx="998.9" cy="260.3" r="2.65"/><circle cx="1002.7" cy="262.4" r="2.65"/><circle cx="1006.5" cy="266.3" r="2.65"/><circle cx="1010.4" cy="260.3" r="2.65"/><circle cx="1014.2" cy="270" r="2.65"/><circle cx="1018" cy="272.5" r="2.65"/><circle cx="1021.9" cy="273.7" r="2.65"/><circle cx="1025.7" cy="275.9" r="2.65"/><circle cx="1029.6" cy="277.1" r="2.65"/><circle cx="1033.4" cy="279.6" r="2.65"/><circle cx="1037.2" cy="266.5" r="2.65"/><circle cx="1041.1" cy="278" r="2.65"/><circle cx="1044.9" cy="225.6" r="2.65"/><circle cx="1048.8" cy="123.1" r="2.65"/><circle cx="1052.6" cy="92.7" r="2.65"/><circle cx="1056.4" cy="66.3" r="2.65"/><circle cx="1060.3" cy="55.8" r="2.65"/><circle cx="1064.1" cy="60.3" r="2.65"/><circle cx="1067.9" cy="61.4" r="2.65"/><circle cx="1071.8" cy="58.3" r="2.65"/><circle cx="1075.6" cy="59.1" r="2.65"/><circle cx="1079.5" cy="60.9" r="2.65"/><circle cx="1083.3" cy="61.4" r="2.65"/><circle cx="1087.1" cy="67.7" r="2.65"/><circle cx="1091" cy="72.2" r="2.65"/><circle cx="1094.8" cy="75.8" r="2.65"/><circle cx="1098.6" cy="63.6" r="2.65"/><circle cx="1102.5" cy="0.8" r="2.65"/><circle cx="1140.8" cy="5.9" r="2.65"/><circle cx="1144.7" cy="43.5" r="2.65"/><circle cx="1148.5" cy="54.9" r="2.65"/><circle cx="1152.4" cy="65.8" r="2.65"/><circle cx="1156.2" cy="160.8" r="2.65"/><circle cx="1160" cy="220.8" r="2.65"/><circle cx="1163.9" cy="238.2" r="2.65"/><circle cx="1167.7" cy="251.7" r="2.65"/><circle cx="1171.5" cy="262.6" r="2.65"/><circle cx="1175.4" cy="261.2" r="2.65"/><circle cx="1179.2" cy="261.3" r="2.65"/><circle cx="1183.1" cy="268.6" r="2.65"/><circle cx="1186.9" cy="262" r="2.65"/><circle cx="1190.7" cy="267.4" r="2.65"/><circle cx="1194.6" cy="264.2" r="2.65"/><circle cx="1198.4" cy="266" r="2.65"/><circle cx="1202.2" cy="263.7" r="2.65"/><circle cx="1206.1" cy="248.7" r="2.65"/><circle cx="1209.9" cy="256.5" r="2.65"/><circle cx="1213.8" cy="257.2" r="2.65"/><circle cx="1217.6" cy="262.2" r="2.65"/><circle cx="1221.4" cy="257" r="2.65"/><circle cx="1225.3" cy="258.1" r="2.65"/><circle cx="1229.1" cy="271.3" r="2.65"/><circle cx="1233" cy="265.5" r="2.65"/><circle cx="1236.8" cy="264.6" r="2.65"/><circle cx="1240.6" cy="277.6" r="2.65"/><circle cx="1244.5" cy="263.3" r="2.65"/><circle cx="1248.3" cy="266.4" r="2.65"/><circle cx="1252.1" cy="261.9" r="2.65"/><circle cx="1256" cy="259.7" r="2.65"/><circle cx="1259.8" cy="265.7" r="2.65"/><circle cx="1263.7" cy="258.8" r="2.65"/><circle cx="1267.5" cy="264.6" r="2.65"/><circle cx="1271.3" cy="266.5" r="2.65"/><circle cx="1275.2" cy="275.4" r="2.65"/><circle cx="1279" cy="275" r="2.65"/><circle cx="1282.8" cy="261.3" r="2.65"/><circle cx="1286.7" cy="270.1" r="2.65"/><circle cx="1290.5" cy="283.7" r="2.65"/><circle cx="1294.3" cy="272.2" r="2.65"/><circle cx="1298.2" cy="272.8" r="2.65"/><circle cx="1302" cy="271.1" r="2.65"/><circle cx="1305.9" cy="265.2" r="2.65"/><circle cx="1309.7" cy="265.7" r="2.65"/><circle cx="1313.5" cy="264.8" r="2.65"/><circle cx="1317.4" cy="267.7" r="2.65"/><circle cx="1321.2" cy="267.7" r="2.65"/><circle cx="1325" cy="266.4" r="2.65"/><circle cx="1328.9" cy="273.9" r="2.65"/><circle cx="1332.7" cy="272.5" r="2.65"/><circle cx="1336.6" cy="281.4" r="2.65"/><circle cx="1340.4" cy="277.6" r="2.65"/><circle cx="1344.2" cy="269.4" r="2.65"/><circle cx="1348.1" cy="270.9" r="2.65"/><circle cx="1351.9" cy="272.2" r="2.65"/><circle cx="1355.8" cy="280.7" r="2.65"/><circle cx="1359.6" cy="274.9" r="2.65"/><circle cx="1363.4" cy="268.6" r="2.65"/><circle cx="1367.3" cy="274.1" r="2.65"/><circle cx="1371.1" cy="268.6" r="2.65"/><circle cx="1374.9" cy="277" r="2.65"/><circle cx="1378.8" cy="271.6" r="2.65"/><circle cx="1382.6" cy="269.4" r="2.65"/><circle cx="1386.4" cy="263.3" r="2.65"/><circle cx="1390.3" cy="255.1" r="2.65"/><circle cx="1394.1" cy="265.1" r="2.65"/><circle cx="1398" cy="266.4" r="2.65"/><circle cx="1401.8" cy="261.9" r="2.65"/><circle cx="1405.6" cy="274.1" r="2.65"/><circle cx="1409.5" cy="265.7" r="2.65"/><circle cx="1413.3" cy="252" r="2.65"/><circle cx="1417.2" cy="257.3" r="2.65"/><circle cx="1421" cy="267.7" r="2.65"/><circle cx="1424.8" cy="270.6" r="2.65"/><circle cx="1428.7" cy="265.7" r="2.65"/></g>
<polyline points="818.5,262.1 830,268 837.5,250.2 841.1,256.5 844.6,251.9 847.3,254.5 850.4,258.3 855.7,257.7 861.1,260.5 865.7,259.4 875.3,265.3 884.9,270.7 894.9,273.4 903.3,272.9 908.7,275.1 914.1,274.5 922.9,276.1 934.8,279.4 939.4,282.4 945.5,274.1 950.1,266.7 953.6,261.3 960.5,257.7 969.3,262.2 981.2,268.2 985.4,267.8 998.9,274.1 1012.3,280.1 1016.9,274.1 1021.1,265.8 1028,266.2 1033,268.6 1040.1,271.8 1044.1,263 1047.4,254 1049.9,258.1 1055.7,260 1065.3,260.5 1074.8,259.4 1082.9,260.5 1091,260.5 1098.6,254 1103.2,260.5 1110.5,263 1125.1,270.2 1139.7,278.3 1151.2,282.6 1155,272.6 1160,264.6 1164.3,266.9 1170.4,268.6 1178.8,270.2 1186.9,269.4 1195,272.6 1203,275.1 1206.1,269.4 1210.7,261.3 1214.9,264 1227.2,269.4 1237.6,271.6 1249.8,273.4 1259.4,276.9 1262.5,269.4 1266.3,260.3 1272.5,261.1 1282.8,265.7 1288.6,265.1 1296.3,267.9 1305.5,272.4 1313.2,273.7 1320.4,273.9 1329.7,276.9 1334.3,270.9 1338.5,267.1 1344.6,266.4 1350.8,268.6 1359.6,273.2 1365.7,275.4 1374.9,278.4 1382.2,276.9 1386.1,269.4 1390.3,270 1396,272.4 1405.6,276.1 1411,270.9 1417.2,260.3 1420.2,261.1 1425.2,263.3 1430.4,261.2" fill="none" stroke="#008000" stroke-width="3.1" stroke-linejoin="round"/>
<polyline points="818.5,262.1 830,268 836.9,254 841.1,257.2 844.6,252.4 846.1,236.2 847.3,219.9 848.8,176.1 851.9,146.4 856.5,127.1 860.7,122.7 865.3,121.8 869.9,125.7 874.1,130.1 878.7,134.5 883,145 887.6,149.5 890.6,164.2 894.9,174.7 899.5,177.6 904.1,183.5 906.8,186.6 909.3,217.8 912.9,241.5 917.1,253.3 923.3,259.3 933.6,263.7 942.5,269 951.3,275.6 955.9,271.1 959.3,250.3 962.8,223.7 966.2,208.8 970.8,204.3 975.1,206 978.1,217.8 981.2,225.1 983.9,229.6 987.7,247.4 991.6,256.3 997.3,261.6 1007.7,266.7 1020,273.4 1033,278.3 1036.9,274.3 1040.1,275.1 1042.6,254.9 1044.1,230.7 1045.7,206.2 1046.6,176.9 1048.4,128.5 1051.1,96 1053.7,77.1 1057.6,60.9 1061,54.9 1064.1,51.6 1067.2,57 1074.1,58.8 1080.6,60.4 1086,59.7 1088.7,65.1 1091.3,69 1095.6,69 1098.6,65.1 1099.4,41.9 1100.4,16.1 1106.3,-26.9 1121.7,-48.4 1137,-26.9 1142,16.1 1143.9,36.5 1146.6,47.3 1149.3,54.1 1152.2,58.2 1153.5,82.5 1155,123.1 1156.2,160.8 1157.7,190 1159.3,211.1 1161.6,230.7 1165,245.2 1168.1,254 1172.3,259.7 1176.9,262.1 1182.7,264.6 1186.9,262.1 1195,263.7 1203,267.8 1206.1,263 1210.7,257.7 1214.9,261.1 1227.2,267.1 1237.6,269.4 1246.8,270.9 1251.8,269.4 1255.6,259.6 1260.2,262.6 1267.9,264.8 1275.2,267.9 1287.4,270.9 1293.6,272.4 1300.9,273.2 1305.5,265.1 1313.2,266.4 1323.5,268.6 1334.3,273.2 1338.5,270.9 1343.9,269.4 1350.8,271.6 1359.6,274.6 1364.2,273.2 1374.9,276.9 1378,274.6 1382.2,274.6 1386.8,265.7 1396,269.4 1405.6,273.9 1410.2,268.6 1415.6,265.7 1420.2,267.8 1425.2,270.9 1430.4,268.7" fill="none" stroke="#0000ff" stroke-width="3.15" stroke-linejoin="round"/>
<polyline points="818.5,272.9 827.7,278.3 832.7,275.6 836.2,265.3 837.3,258.9 841.5,260 848.4,261 855.7,261.6 862.2,262.1 875.3,267.5 884.9,272.4 894.9,275.6 903.3,275.1 908.7,276.9 914.1,277.2 922.9,278.8 934.8,281.5 938.2,283 945.5,275.6 950.1,268.2 952.8,261.6 957.4,264.6 963.2,262.2 972,266.7 981.2,270.5 993.1,277.1 1005,281.5 1013.1,283 1016.9,277.1 1021.1,269.6 1028.8,269.6 1033,272.6 1040.1,275.1 1044.1,269.4 1049.1,266.9 1055.7,264.6 1065.3,262.4 1074.8,262.1 1091,262.1 1098.6,259.4 1103.2,262.1 1110.5,265.3 1125.1,272.6 1139.7,279.9 1151.2,283.6 1155,274.3 1160,266.2 1170.4,270.2 1186.9,272.6 1195,274.3 1203,276.7 1207.6,271 1212.6,267.8 1214.9,267.1 1219.1,271.8 1227.2,274.6 1237.6,278.4 1245.2,281.4 1252.5,282.2 1260.2,283.7 1263.3,275.4 1267.1,266.4 1275.2,268.6 1282.8,270.9 1288.6,270.2 1296.3,273.9 1305.5,277.6 1313.2,279.9 1320.4,279.9 1329.7,282.9 1334.3,276.9 1338.5,273.2 1344.6,272.4 1350.8,274.6 1359.6,277.6 1365.7,280.7 1374.9,282.9 1382.2,281.4 1386.8,273.9 1396,276.1 1405.6,280.7 1410.2,282.2 1414.1,272.4 1417.9,264 1423.3,267.8 1427.5,266.4 1430.4,265.2" fill="none" stroke="#00bfbf" stroke-width="3.25" stroke-linejoin="round" stroke-dasharray="11.5 5"/>
<polyline points="818.5,272.9 827.7,278.3 832.7,275.6 836.5,265.3 840.8,262.1 845,258.9 847.3,247 849.4,228.7 851.1,217.8 853.4,208.8 859.2,202.8 865.3,201.3 872.6,204.3 880.3,208.8 887.6,216.2 894.9,223.7 902.5,228.1 906.8,232.5 909.8,244.4 914.4,256.3 920.2,262.2 933.6,267.6 942.5,272.6 951.3,277.1 955.9,274.1 959.3,262.2 963.2,249 967.8,243.1 972,241.5 976.6,244.4 981.2,251.8 985.4,256.3 990,262.2 997.3,266.7 1007.7,271.7 1020,276.7 1033,280.7 1036.9,278.3 1041.1,279.1 1044.1,263 1047.4,235.4 1049.5,215.1 1051.1,201.2 1054.9,187.7 1059.1,181 1062.9,178.9 1068.3,181 1076.8,182.3 1086,182.8 1092.9,186.4 1098.3,185 1100.2,168.8 1102.1,144.6 1106.3,128.5 1110.2,120.4 1115.9,115.6 1121.3,117.8 1126.7,124.3 1133.2,129.7 1135.9,144.6 1140.1,160.8 1145.5,175.6 1152.2,182.3 1153.5,198.5 1154.3,214.3 1157,238.6 1160,258.1 1164.3,266.2 1172.3,270.2 1182.7,271.8 1195,273.4 1203,275.1 1210.7,269.4 1214.9,272.4 1227.2,276.9 1237.6,279.1 1245.2,280.7 1251,278.4 1255.6,270.1 1263.3,272.4 1272.5,276.9 1282.8,279.9 1293.6,282.9 1300.9,282.9 1305.5,275.4 1313.2,276.1 1323.5,278.4 1334.3,282.6 1338.5,281.2 1343.9,278.4 1350.8,279.9 1359.6,284.5 1364.2,282.2 1374.9,285.2 1382.2,282.9 1386.8,273.9 1396,276.9 1405.6,280.7 1411,275.4 1415.6,273.2 1420.2,275.4 1425.2,278.4 1428.3,277.6" fill="none" stroke="#bf00bf" stroke-width="3.25" stroke-linejoin="round" stroke-dasharray="11.5 5"/>
</g>
<rect x="818.5" y="21.5" width="614" height="285" fill="none" stroke="#000" stroke-width="1.2"/>
<path d="M818.5 306.5v5.6M895.5 306.5v5.6M972.5 306.5v5.6M1049.5 306.5v5.6M1125.5 306.5v5.6M1202.5 306.5v5.6M1279.5 306.5v5.6M1356.5 306.5v5.6M1432.5 306.5v5.6M818.5 263.5h-5.6M818.5 209.5h-5.6M818.5 155.5h-5.6M818.5 102.5h-5.6M818.5 48.5h-5.6" stroke="#000" stroke-width="1.15" fill="none"/>
<text x="807.2" y="269.6" text-anchor="end" font-size="15.8" textLength="27.8" lengthAdjust="spacingAndGlyphs">100</text>
<text x="807.2" y="215.8" text-anchor="end" font-size="15.8" textLength="27.8" lengthAdjust="spacingAndGlyphs">200</text>
<text x="807.2" y="162" text-anchor="end" font-size="15.8" textLength="27.8" lengthAdjust="spacingAndGlyphs">300</text>
<text x="807.2" y="108.3" text-anchor="end" font-size="15.8" textLength="27.8" lengthAdjust="spacingAndGlyphs">400</text>
<text x="807.2" y="54.5" text-anchor="end" font-size="15.8" textLength="27.8" lengthAdjust="spacingAndGlyphs">500</text>
<rect x="1202.6" y="29.4" width="222.8" height="138.1" rx="3.5" ry="3.5" fill="#fff" stroke="#c6c6c6" stroke-width="1.3"/>
<circle cx="1224.1" cy="41.8" r="2.5" fill="#000000"/>
<text x="1251.3" y="46.9" font-size="15.7" textLength="156.9" lengthAdjust="spacingAndGlyphs">Ag. 2 measurements</text>
<circle cx="1224.1" cy="64.1" r="2.5" fill="#ff0000"/>
<text x="1251.3" y="68.8" font-size="15.7" textLength="166.7" lengthAdjust="spacingAndGlyphs">Ag. 10 measurements</text>
<rect x="1207.2" y="84.4" width="33.7" height="4" fill="#008000"/>
<text x="1251.3" y="91.5" font-size="15.7" textLength="71.6" lengthAdjust="spacingAndGlyphs">Ag. 2 real</text>
<rect x="1207.2" y="106.7" width="33.7" height="4" fill="#0000ff"/>
<text x="1251.3" y="113.9" font-size="15.7" textLength="81.2" lengthAdjust="spacingAndGlyphs">Ag. 10 real</text>
<rect x="1208.2" y="129" width="11.5" height="4" fill="#00bfbf"/>
<rect x="1224.2" y="129" width="11.5" height="4" fill="#00bfbf"/>
<text x="1251.3" y="135.8" font-size="15.7" textLength="123.2" lengthAdjust="spacingAndGlyphs">Ag. 2 estimation</text>
<rect x="1208.2" y="151.3" width="11.5" height="4" fill="#bf00bf"/>
<rect x="1224.2" y="151.3" width="11.5" height="4" fill="#bf00bf"/>
<text x="1251.3" y="157.9" font-size="15.7" textLength="133.5" lengthAdjust="spacingAndGlyphs">Ag. 10 estimation</text>
<path d="M81.5 335.5V623.5M157.5 335.5V623.5M233.5 335.5V623.5M309.5 335.5V623.5M385.5 335.5V623.5M461.5 335.5V623.5M538.5 335.5V623.5M614.5 335.5V623.5M690.5 335.5V623.5M81.5 607.5H690.5M81.5 574.5H690.5M81.5 541.5H690.5M81.5 507.5H690.5M81.5 474.5H690.5M81.5 441.5H690.5M81.5 408.5H690.5M81.5 374.5H690.5M81.5 341.5H690.5" stroke="#808080" stroke-width="1.05" fill="none"/>
<g clip-path="url(#cbl)">
<polyline points="81.5,607.7 199.5,607.7 207.1,604.4 221.2,592.6 252,592.6 267.2,586.7 287,570.2 305.7,551.6 411.5,551.6 421.4,548.5 431.7,544.5 439.3,538 445.4,532.5 451.5,530.5 459.5,525.3 466.3,520.1 495.2,519.9 503.2,518.5 515,514.5 526.8,507.4 539,497.4 550.8,487.5 563,476.7 574.8,463.6 586.6,453.6 598.8,439.7 612.5,427.8 626.6,411.8 640.3,393.9 654.3,376.1 666.1,358.1 678.3,340.2 684.8,329.5" fill="none" stroke="#008000" stroke-width="2.8" stroke-linejoin="round"/>
<polyline points="81.5,607.7 210.9,607.7 220,606.4 271.8,606.4 288.2,599.8 305.7,586.7 534.8,586.7 550.8,583.1 563,577.1 574.8,567.9 582.8,563.1 598.8,548.5 614.4,537.2 626.6,525.3 640.3,509.4 654.3,491.5 666.1,473.5 678.3,454.4 688.4,440.8" fill="none" stroke="#0000ff" stroke-width="3.5" stroke-linejoin="round"/>
<polyline points="81.5,615.5 196.1,615.5 207.1,609.7 221.2,597.7 252,597.7 267.2,591.1 287,572.4 305.7,553.1 407.7,553.1 419.5,547.1 431.7,538.5 443.5,529.3 455.3,519.3 465.2,511.4 495.2,510.2 503.2,508.5 515,503.4 526.8,495.4 539,485.5 550.8,474.3 563,463.6 574.8,451.6 586.6,440.5 598.8,427.8 612.5,415 626.6,399.9 640.3,382.1 654.3,364.1 666.1,347.5 679.1,328.2" fill="none" stroke="#00bfbf" stroke-width="3.5" stroke-linejoin="round" stroke-dasharray="11.5 5"/>
<polyline points="81.5,614.5 196.1,614.5 211.3,611.9 221.2,608 270.7,607.7 288.2,594.4 306.8,579.5 459.5,579.5 467.5,578.2 523,578.2 532.9,575.1 542.8,569.1 555,559.1 566.8,548.5 578.6,539.2 586.6,534.1 598.8,521.3 614.4,509.4 626.6,497.4 640.3,480.7 654.3,462.4 666.1,444.5 678.3,425.8 688.4,410.3" fill="none" stroke="#bf00bf" stroke-width="3.5" stroke-linejoin="round" stroke-dasharray="11.5 5"/>
</g>
<rect x="81.5" y="335.5" width="609" height="288" fill="none" stroke="#000" stroke-width="1.2"/>
<path d="M81.5 623.5v6.5M157.5 623.5v6.5M233.5 623.5v6.5M309.5 623.5v6.5M385.5 623.5v6.5M461.5 623.5v6.5M538.5 623.5v6.5M614.5 623.5v6.5M690.5 623.5v6.5M81.5 607.5h-6.4M81.5 574.5h-6.4M81.5 541.5h-6.4M81.5 507.5h-6.4M81.5 474.5h-6.4M81.5 441.5h-6.4M81.5 408.5h-6.4M81.5 374.5h-6.4M81.5 341.5h-6.4" stroke="#000" stroke-width="1.15" fill="none"/>
<text x="69.3" y="614.4" text-anchor="end" font-size="15.8" textLength="27.8" lengthAdjust="spacingAndGlyphs">200</text>
<text x="69.3" y="581.1" text-anchor="end" font-size="15.8" textLength="27.8" lengthAdjust="spacingAndGlyphs">250</text>
<text x="69.3" y="547.9" text-anchor="end" font-size="15.8" textLength="27.8" lengthAdjust="spacingAndGlyphs">300</text>
<text x="69.3" y="514.6" text-anchor="end" font-size="15.8" textLength="27.8" lengthAdjust="spacingAndGlyphs">350</text>
<text x="69.3" y="481.3" text-anchor="end" font-size="15.8" textLength="27.8" lengthAdjust="spacingAndGlyphs">400</text>
<text x="69.3" y="448" text-anchor="end" font-size="15.8" textLength="27.8" lengthAdjust="spacingAndGlyphs">450</text>
<text x="69.3" y="414.8" text-anchor="end" font-size="15.8" textLength="27.8" lengthAdjust="spacingAndGlyphs">500</text>
<text x="69.3" y="381.5" text-anchor="end" font-size="15.8" textLength="27.8" lengthAdjust="spacingAndGlyphs">550</text>
<text x="69.3" y="348.2" text-anchor="end" font-size="15.8" textLength="27.8" lengthAdjust="spacingAndGlyphs">600</text>
<text x="81.1" y="645.9" text-anchor="middle" font-size="15.8" textLength="9.2" lengthAdjust="spacingAndGlyphs">0</text>
<text x="157.2" y="645.9" text-anchor="middle" font-size="15.8" textLength="18.5" lengthAdjust="spacingAndGlyphs">20</text>
<text x="233.3" y="645.9" text-anchor="middle" font-size="15.8" textLength="18.5" lengthAdjust="spacingAndGlyphs">40</text>
<text x="309.5" y="645.9" text-anchor="middle" font-size="15.8" textLength="18.5" lengthAdjust="spacingAndGlyphs">60</text>
<text x="385.6" y="645.9" text-anchor="middle" font-size="15.8" textLength="18.5" lengthAdjust="spacingAndGlyphs">80</text>
<text x="461.7" y="645.9" text-anchor="middle" font-size="15.8" textLength="27.8" lengthAdjust="spacingAndGlyphs">100</text>
<text x="537.9" y="645.9" text-anchor="middle" font-size="15.8" textLength="27.8" lengthAdjust="spacingAndGlyphs">120</text>
<text x="614" y="645.9" text-anchor="middle" font-size="15.8" textLength="27.8" lengthAdjust="spacingAndGlyphs">140</text>
<text x="690.1" y="645.9" text-anchor="middle" font-size="15.8" textLength="27.8" lengthAdjust="spacingAndGlyphs">160</text>
<rect x="88.7" y="342.7" width="132.7" height="93.6" rx="3.5" ry="3.5" fill="#fff" stroke="#c6c6c6" stroke-width="1.3"/>
<rect x="93" y="352.9" width="34.1" height="4" fill="#008000"/>
<text x="137.4" y="360" font-size="15.7" textLength="66.9" lengthAdjust="spacingAndGlyphs">Ag.2 real</text>
<rect x="93" y="375.2" width="34.1" height="4" fill="#0000ff"/>
<text x="137.4" y="382.3" font-size="15.7" textLength="77.3" lengthAdjust="spacingAndGlyphs">Ag.10 real</text>
<rect x="93.8" y="397.6" width="12.9" height="4.2" fill="#00bfbf"/>
<rect x="109.9" y="397.6" width="12.9" height="4.2" fill="#00bfbf"/>
<text x="137.4" y="404.8" font-size="15.7" textLength="66.4" lengthAdjust="spacingAndGlyphs">Ag.2 est.</text>
<rect x="93.8" y="419.9" width="12.9" height="4.2" fill="#bf00bf"/>
<rect x="109.9" y="419.9" width="12.9" height="4.2" fill="#bf00bf"/>
<text x="137.4" y="427.1" font-size="15.7" textLength="75.4" lengthAdjust="spacingAndGlyphs">Ag.10 est.</text>
<path d="M818.5 334.5V619.5M895.5 334.5V619.5M972.5 334.5V619.5M1049.5 334.5V619.5M1125.5 334.5V619.5M1202.5 334.5V619.5M1279.5 334.5V619.5M1356.5 334.5V619.5M1432.5 334.5V619.5M818.5 602.5H1432.5M818.5 569.5H1432.5M818.5 537.5H1432.5M818.5 504.5H1432.5M818.5 471.5H1432.5M818.5 439.5H1432.5M818.5 406.5H1432.5M818.5 373.5H1432.5M818.5 341.5H1432.5" stroke="#808080" stroke-width="1.05" fill="none"/>
<g clip-path="url(#cbr)">
<polyline points="818.5,603 937.5,603 946.7,599.5 1008.1,599.5 1016.9,598.4 1144.7,598.4 1152.4,598.1 1430.4,598.1" fill="none" stroke="#008000" stroke-width="2.8" stroke-linejoin="round"/>
<polyline points="818.5,603 1430.4,603" fill="none" stroke="#0000ff" stroke-width="3.5" stroke-linejoin="round"/>
<polyline points="818.5,603 935.5,603 946.7,598.8 1011.5,598.8 1019.2,595.3 1143.5,595.3 1155.8,593 1255.6,593 1266.3,591.2 1374.2,590.7 1384.9,589 1402.6,588.6 1413.3,585.7 1429.8,585.7" fill="none" stroke="#00bfbf" stroke-width="3.3" stroke-linejoin="round" stroke-dasharray="11.5 5"/>
<polyline points="818.5,606.2 950.9,606.2 959.7,605.2 1027.6,605.2 1034.6,604.5 1290.5,604.5 1312.4,603.4 1334.6,603.4 1345.4,602.3 1355.8,602.3 1361.5,599.4 1367.3,598.9 1398.3,598.9 1411.8,596.1 1423.3,596.1" fill="none" stroke="#bf00bf" stroke-width="3.5" stroke-linejoin="round" stroke-dasharray="11.5 5"/>
</g>
<rect x="818.5" y="334.5" width="614" height="285" fill="none" stroke="#000" stroke-width="1.2"/>
<path d="M818.5 619.5v5.5M895.5 619.5v5.5M972.5 619.5v5.5M1049.5 619.5v5.5M1125.5 619.5v5.5M1202.5 619.5v5.5M1279.5 619.5v5.5M1356.5 619.5v5.5M1432.5 619.5v5.5M818.5 602.5h-5.6M818.5 569.5h-5.6M818.5 537.5h-5.6M818.5 504.5h-5.6M818.5 471.5h-5.6M818.5 439.5h-5.6M818.5 406.5h-5.6M818.5 373.5h-5.6M818.5 341.5h-5.6" stroke="#000" stroke-width="1.15" fill="none"/>
<text x="807.2" y="609.1" text-anchor="end" font-size="15.8" textLength="27.8" lengthAdjust="spacingAndGlyphs">200</text>
<text x="807.2" y="576.4" text-anchor="end" font-size="15.8" textLength="27.8" lengthAdjust="spacingAndGlyphs">250</text>
<text x="807.2" y="543.8" text-anchor="end" font-size="15.8" textLength="27.8" lengthAdjust="spacingAndGlyphs">300</text>
<text x="807.2" y="511.1" text-anchor="end" font-size="15.8" textLength="27.8" lengthAdjust="spacingAndGlyphs">350</text>
<text x="807.2" y="478.4" text-anchor="end" font-size="15.8" textLength="27.8" lengthAdjust="spacingAndGlyphs">400</text>
<text x="807.2" y="445.7" text-anchor="end" font-size="15.8" textLength="27.8" lengthAdjust="spacingAndGlyphs">450</text>
<text x="807.2" y="413.1" text-anchor="end" font-size="15.8" textLength="27.8" lengthAdjust="spacingAndGlyphs">500</text>
<text x="807.2" y="380.4" text-anchor="end" font-size="15.8" textLength="27.8" lengthAdjust="spacingAndGlyphs">550</text>
<text x="807.2" y="347.7" text-anchor="end" font-size="15.8" textLength="27.8" lengthAdjust="spacingAndGlyphs">600</text>
<text x="818.2" y="641.7" text-anchor="middle" font-size="15.8" textLength="9.2" lengthAdjust="spacingAndGlyphs">0</text>
<text x="895" y="641.7" text-anchor="middle" font-size="15.8" textLength="18.5" lengthAdjust="spacingAndGlyphs">20</text>
<text x="971.7" y="641.7" text-anchor="middle" font-size="15.8" textLength="18.5" lengthAdjust="spacingAndGlyphs">40</text>
<text x="1048.5" y="641.7" text-anchor="middle" font-size="15.8" textLength="18.5" lengthAdjust="spacingAndGlyphs">60</text>
<text x="1125.2" y="641.7" text-anchor="middle" font-size="15.8" textLength="18.5" lengthAdjust="spacingAndGlyphs">80</text>
<text x="1202" y="641.7" text-anchor="middle" font-size="15.8" textLength="27.8" lengthAdjust="spacingAndGlyphs">100</text>
<text x="1278.7" y="641.7" text-anchor="middle" font-size="15.8" textLength="27.8" lengthAdjust="spacingAndGlyphs">120</text>
<text x="1355.5" y="641.7" text-anchor="middle" font-size="15.8" textLength="27.8" lengthAdjust="spacingAndGlyphs">140</text>
<text x="1432.2" y="641.7" text-anchor="middle" font-size="15.8" textLength="27.8" lengthAdjust="spacingAndGlyphs">160</text>
<rect x="1292.7" y="342.4" width="132.7" height="93.6" rx="3.5" ry="3.5" fill="#fff" stroke="#c6c6c6" stroke-width="1.3"/>
<rect x="1297.1" y="352.8" width="33.8" height="4" fill="#008000"/>
<text x="1341.6" y="359.9" font-size="15.7" textLength="66.9" lengthAdjust="spacingAndGlyphs">Ag.2 real</text>
<rect x="1297.1" y="375" width="33.8" height="4" fill="#0000ff"/>
<text x="1341.6" y="382.1" font-size="15.7" textLength="77.3" lengthAdjust="spacingAndGlyphs">Ag.10 real</text>
<rect x="1297.9" y="397.2" width="12.9" height="4.2" fill="#00bfbf"/>
<rect x="1314" y="397.2" width="12.9" height="4.2" fill="#00bfbf"/>
<text x="1341.6" y="404.4" font-size="15.7" textLength="66.4" lengthAdjust="spacingAndGlyphs">Ag.2 est.</text>
<rect x="1297.9" y="419.8" width="12.9" height="4.2" fill="#bf00bf"/>
<rect x="1314" y="419.8" width="12.9" height="4.2" fill="#bf00bf"/>
<text x="1341.6" y="427" font-size="15.7" textLength="75.4" lengthAdjust="spacingAndGlyphs">Ag.10 est.</text>
<text x="384.6" y="668.8" text-anchor="middle" font-size="18.8" textLength="75.6" lengthAdjust="spacingAndGlyphs">Time (<tspan font-style="italic">d</tspan>)</text>
<text x="1124.6" y="663.7" text-anchor="middle" font-size="18.8" textLength="75.6" lengthAdjust="spacingAndGlyphs">Time (<tspan font-style="italic">d</tspan>)</text>
<text transform="translate(30 163.9) rotate(-90)" text-anchor="middle" font-size="18.8" font-style="italic" textLength="68" lengthAdjust="spacingAndGlyphs">x<tspan font-size="12.8" dy="3.2" font-style="normal">1</tspan><tspan dy="-3.2" font-style="normal">(</tspan>mm<tspan font-style="normal">)</tspan></text>
<text transform="translate(765.5 164.9) rotate(-90)" text-anchor="middle" font-size="18.8" font-style="italic" textLength="68" lengthAdjust="spacingAndGlyphs">x<tspan font-size="12.8" dy="3.2" font-style="normal">1</tspan><tspan dy="-3.2" font-style="normal">(</tspan>mm<tspan font-style="normal">)</tspan></text>
<text transform="translate(29 480) rotate(-90)" text-anchor="middle" font-size="18.8" font-style="italic" textLength="71.4" lengthAdjust="spacingAndGlyphs">x<tspan font-size="12.8" dy="3.2" font-style="normal">3</tspan><tspan dy="-3.2" font-style="normal">(&#176;</tspan>C d<tspan font-style="normal">)</tspan></text>
<text transform="translate(765.9 477.7) rotate(-90)" text-anchor="middle" font-size="18.8" font-style="italic" textLength="71.4" lengthAdjust="spacingAndGlyphs">x<tspan font-size="12.8" dy="3.2" font-style="normal">3</tspan><tspan dy="-3.2" font-style="normal">(&#176;</tspan>C d<tspan font-style="normal">)</tspan></text>
<text class="sf" x="336.6" y="719.8" font-size="33">(</text>
<text class="sf" x="347.7" y="720.2" font-size="31" font-weight="bold">a</text>
<text class="sf" x="362.6" y="719.8" font-size="33">)</text>
<text class="sf" x="1074.2" y="719.8" font-size="33">(</text>
<text class="sf" x="1085.7" y="720.2" font-size="31" font-weight="bold">b</text>
<text class="sf" x="1103.3" y="719.8" font-size="33">)</text>
</svg></body></html>
